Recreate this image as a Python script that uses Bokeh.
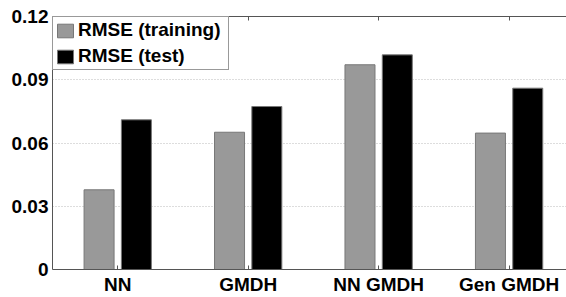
import numpy as np
from bokeh.plotting import figure
from bokeh.models import FixedTicker, LinearAxis, Range1d
from bokeh.embed import file_html
from bokeh.resources import INLINE

categories = ["NN", "GMDH", "NN GMDH", "Gen GMDH"]
rmse_train = [0.0378, 0.0651, 0.0971, 0.0647]
rmse_test = [0.0710, 0.0773, 0.1018, 0.0860]
y_ticks = [0, 0.03, 0.06, 0.09, 0.12]
y_tick_labels = ["0", "0.03", "0.06", "0.09", "0.12"]

FONT = "Liberation Sans"
idx = np.arange(1, len(categories) + 1)

p = figure(width=566, height=297, output_backend="svg", toolbar_location=None,
           x_range=Range1d(0.5, 4.44), y_range=Range1d(0, 0.12),
           min_border_left=52, min_border_right=0, min_border_top=16, min_border_bottom=28)
p.outline_line_color = None
p.background_fill_color = "white"

p.vbar(x=idx - 0.143, top=rmse_train, width=0.23, fill_color="#999999",
       line_color="#777777", line_width=1, legend_label="RMSE (training)")
p.vbar(x=idx + 0.143, top=rmse_test, width=0.23, fill_color="#000000",
       line_color="#777777", line_width=1, legend_label="RMSE (test)")

p.xaxis.ticker = FixedTicker(ticks=list(idx))
p.xaxis.major_label_overrides = {int(i): c for i, c in zip(idx, categories)}
p.yaxis.ticker = FixedTicker(ticks=y_ticks)
p.yaxis.major_label_overrides = {t: l for t, l in zip(y_ticks, y_tick_labels)}

for ax in [p.xaxis[0], p.yaxis[0]]:
    ax.axis_line_color = "#555555"
    ax.major_tick_line_color = "#555555"
    ax.major_tick_in = 4
    ax.major_tick_out = 0
    ax.minor_tick_line_color = None
    ax.major_label_text_font = FONT
    ax.major_label_text_font_style = "bold"
    ax.major_label_text_font_size = "19px"
    ax.major_label_text_color = "black"
    ax.major_label_standoff = 4
p.yaxis.major_tick_line_color = None

top = LinearAxis(ticker=FixedTicker(ticks=list(idx)), major_label_text_font_size="0px",
                 axis_line_color="#555555", major_tick_line_color="#555555",
                 major_tick_in=4, major_tick_out=0, minor_tick_line_color=None)
top.major_label_text_color = None
p.add_layout(top, "above")

p.xgrid.grid_line_color = None
p.ygrid.grid_line_color = "#bbbbbb"
p.ygrid.grid_line_dash = "1 2"

lg = p.legend[0]
lg.location = "top_left"
lg.margin = 0
lg.padding = 2
lg.spacing = 4
lg.glyph_width = 20
lg.glyph_height = 17
lg.label_standoff = 3
lg.label_width = 148
lg.label_text_font = FONT
lg.label_text_font_style = "bold"
lg.label_text_font_size = "19px"
lg.label_text_color = "black"
lg.label_height = 19
lg.border_line_color = "#333333"
lg.border_line_width = 1
lg.background_fill_alpha = 1

open("out.html", "w").write(file_html(p, INLINE))
